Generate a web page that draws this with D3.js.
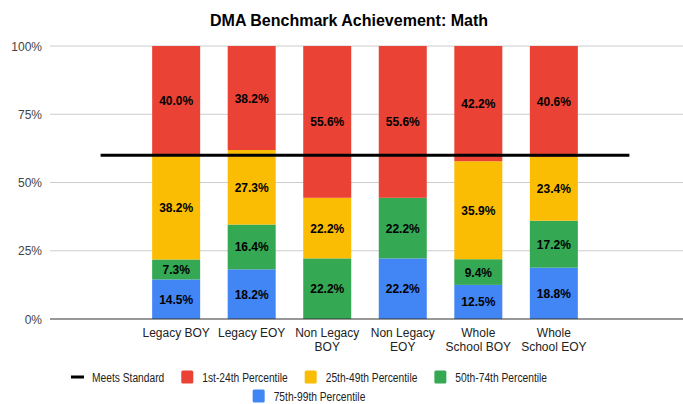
<!DOCTYPE html>
<html>
<head>
<meta charset="utf-8">
<script src="https://cdn.jsdelivr.net/npm/d3@7"></script>
<style>
  body { margin: 0; background: #fff; }
  svg { font-family: "Liberation Sans", Arial, sans-serif; }
</style>
</head>
<body>
<svg id="chart" width="683" height="404"></svg>
<script>
const categories = [['Legacy BOY'], ['Legacy EOY'], ['Non Legacy', 'BOY'], ['Non Legacy', 'EOY'], ['Whole', 'School BOY'], ['Whole', 'School EOY']];
const blue = [14.5, 18.2, 0, 22.2, 12.5, 18.8];     // 75th-99th
const green = [7.3, 16.4, 22.2, 22.2, 9.4, 17.2];   // 50th-74th
const yellow = [38.2, 27.3, 22.2, 0, 35.9, 23.4];   // 25th-49th
const red = [40.0, 38.2, 55.6, 55.6, 42.2, 40.6];   // 1st-24th
const meetsStandard = 60;
const yTicks = [0, 25, 50, 75, 100];

const seriesNames = ['75th-99th Percentile', '50th-74th Percentile', '25th-49th Percentile', '1st-24th Percentile'];
const seriesColors = ['#4285f4', '#34a853', '#fbbc04', '#ea4335'];
const seriesValues = [blue, green, yellow, red];

const svg = d3.select('#chart');
const plotLeft = 50;
const plotRight = 680;
const plotTop = 46;
const plotBottom = 319;
const barWidth = 48;

const x = d3.scaleLinear().domain([-1.67, categories.length - 1 + 1.67]).range([plotLeft, plotRight]);
const y = d3.scaleLinear().domain([0, 100]).range([plotBottom, plotTop]);

svg.append('text')
  .attr('x', 349).attr('y', 26)
  .attr('text-anchor', 'middle')
  .attr('font-size', 16).attr('font-weight', 'bold').attr('fill', '#000')
  .text('DMA Benchmark Achievement: Math');

// gridlines
svg.append('g').selectAll('line')
  .data(yTicks.filter(d => d > 0))
  .enter().append('line')
  .attr('x1', plotLeft).attr('x2', 683)
  .attr('y1', d => y(d)).attr('y2', d => y(d))
  .attr('stroke', '#ccc').attr('stroke-width', 1);

svg.append('g').selectAll('text')
  .data(yTicks)
  .enter().append('text')
  .attr('x', 42).attr('y', d => y(d) + 4.5)
  .attr('text-anchor', 'end')
  .attr('font-size', 12).attr('fill', '#444')
  .text(d => `${d}%`);

// stacked bars
const rows = categories.map((c, i) => {
  let acc = 0;
  return seriesValues.map((vals, s) => {
    const seg = { i, s, y0: acc, y1: acc + vals[i], v: vals[i] };
    acc += vals[i];
    return seg;
  });
}).flat().filter(d => d.v > 0);

const bars = svg.append('g');
bars.selectAll('rect')
  .data(rows)
  .enter().append('rect')
  .attr('x', d => x(d.i) - barWidth / 2)
  .attr('width', barWidth)
  .attr('y', d => y(Math.min(d.y1, 100)))
  .attr('height', d => y(d.y0) - y(Math.min(d.y1, 100)))
  .attr('fill', d => seriesColors[d.s]);

bars.selectAll('text')
  .data(rows)
  .enter().append('text')
  .attr('x', d => x(d.i))
  .attr('y', d => y((d.y0 + Math.min(d.y1, 100)) / 2) + 4.5)
  .attr('text-anchor', 'middle')
  .attr('font-size', 12).attr('font-weight', 'bold').attr('fill', '#000')
  .text(d => `${d.v.toFixed(1)}%`);

// baseline
svg.append('line')
  .attr('x1', plotLeft).attr('x2', 683)
  .attr('y1', plotBottom).attr('y2', plotBottom)
  .attr('stroke', '#333').attr('stroke-width', 1);

// meets standard line
svg.append('line')
  .attr('x1', x(-1)).attr('x2', x(categories.length))
  .attr('y1', y(meetsStandard)).attr('y2', y(meetsStandard))
  .attr('stroke', '#000').attr('stroke-width', 3);

// category labels
const cat = svg.append('g').selectAll('text')
  .data(categories)
  .enter().append('text')
  .attr('text-anchor', 'middle')
  .attr('font-size', 12).attr('fill', '#222');
cat.each(function (lines, i) {
  lines.forEach((l, k) => {
    d3.select(this).append('tspan')
      .attr('x', x(i)).attr('y', 337 + k * 14)
      .text(l);
  });
});

// legend (text is a bit condensed in the original)
const legendRows = [
  [{ name: 'Meets Standard', line: true }].concat([3, 2, 1].map(s => ({ name: seriesNames[s], color: seriesColors[s] }))),
  [{ name: seriesNames[0], color: seriesColors[0] }],
];
const legendCenter = 309;
const squeeze = 0.82;
legendRows.forEach((items, r) => {
  const g = svg.append('g');
  const ly = 377 + r * 19;
  let cx = 0;
  items.forEach((it, k) => {
    if (it.line) {
      g.append('rect').attr('x', cx).attr('y', ly - 1.5).attr('width', 13).attr('height', 3).attr('fill', '#000');
    } else {
      g.append('rect').attr('x', cx).attr('y', ly - 6.5).attr('width', 12).attr('height', 13).attr('rx', 1.5).attr('fill', it.color);
    }
    const t = g.append('text')
      .attr('transform', `translate(${cx + 21},${ly + 4.5}) scale(${squeeze},1)`)
      .attr('font-size', 12.5).attr('fill', '#222')
      .text(it.name);
    cx += 21 + t.node().getComputedTextLength() * squeeze;
    if (k < items.length - 1) cx += 17;
  });
  g.attr('transform', `translate(${legendCenter - cx / 2},0)`);
});
</script>
</body>
</html>
